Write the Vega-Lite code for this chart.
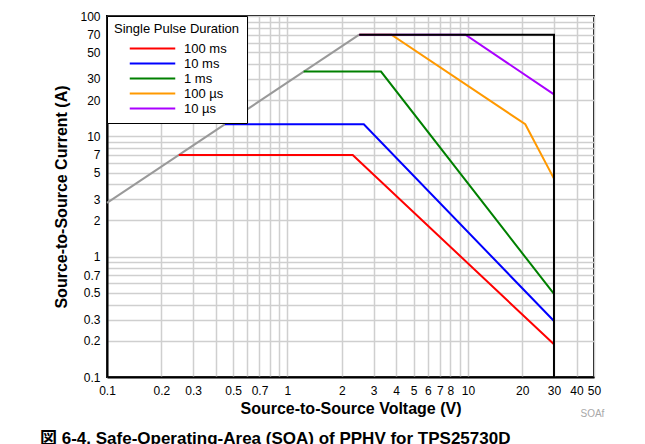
{
  "$schema": "https://vega.github.io/schema/vega-lite/v6.json",
  "width": 487,
  "height": 361,
  "autosize": {"type": "none"},
  "padding": {"left": 107, "top": 16, "right": 51, "bottom": 67},
  "background": "white",
  "config": {
    "font": "Liberation Sans",
    "view": {"stroke": "black", "strokeWidth": 2},
    "axis": {
      "domainColor": "black",
      "domainWidth": 2,
      "ticks": false,
      "grid": true,
      "gridColor": "#cfcfcf",
      "gridWidth": 1.5,
      "labelFont": "Liberation Sans",
      "labelFontSize": 12,
      "labelColor": "black",
      "labelOverlap": false,
      "labelFlush": false,
      "titleFont": "Liberation Sans",
      "titleFontSize": 16,
      "titleFontWeight": "bold",
      "titleColor": "black"
    }
  },
  "title": {
    "text": "図 6-4. Safe-Operating-Area (SOA) of PPHV for TPS25730D",
    "orient": "bottom",
    "anchor": "start",
    "frame": "group",
    "dx": -67,
    "offset": 12,
    "font": "Liberation Sans, Noto Sans CJK JP",
    "fontSize": 17,
    "fontWeight": "bold",
    "color": "black"
  },
  "datasets": {
    "curves": [
      {"V": 0.25, "I": 7, "pulse": "100 ms"},
      {"V": 2.3, "I": 7, "pulse": "100 ms"},
      {"V": 30, "I": 0.187, "pulse": "100 ms"},
      {"V": 0.45, "I": 12.6, "pulse": "10 ms"},
      {"V": 2.65, "I": 12.6, "pulse": "10 ms"},
      {"V": 30, "I": 0.292, "pulse": "10 ms"},
      {"V": 1.23, "I": 34.5, "pulse": "1 ms"},
      {"V": 3.3, "I": 34.5, "pulse": "1 ms"},
      {"V": 30, "I": 0.49, "pulse": "1 ms"},
      {"V": 2.5, "I": 70, "pulse": "100 µs"},
      {"V": 3.77, "I": 70, "pulse": "100 µs"},
      {"V": 20.8, "I": 12.6, "pulse": "100 µs"},
      {"V": 30, "I": 4.45, "pulse": "100 µs"},
      {"V": 2.5, "I": 70, "pulse": "10 µs"},
      {"V": 9.7, "I": 70, "pulse": "10 µs"},
      {"V": 30, "I": 22.3, "pulse": "10 µs"}
    ],
    "limit": [
      {"V": 0.1, "I": 2.8},
      {"V": 2.5, "I": 70}
    ],
    "boundary": [
      {"V": 2.5, "I": 70, "k": 1},
      {"V": 30, "I": 70, "k": 2},
      {"V": 30, "I": 0.1, "k": 3}
    ],
    "notes": [
      {"note": "SOAf"}
    ]
  },
  "layer": [
    {
      "data": {"name": "limit"},
      "mark": {"type": "line", "color": "#999999", "strokeWidth": 2},
      "encoding": {
        "x": {
          "field": "V",
          "type": "quantitative",
          "scale": {"type": "log", "domain": [0.1, 50], "nice": false},
          "axis": {
            "values": [0.1, 0.2, 0.3, 0.4, 0.5, 0.6, 0.7, 0.8, 0.9, 1, 2, 3, 4, 5, 6, 7, 8, 9, 10, 20, 30, 40, 50],
            "format": "~g",
            "labelExpr": "indexof([0.4, 0.6, 0.8, 0.9, 9], datum.value) >= 0 ? '' : datum.label",
            "title": "Source-to-Source Voltage (V)",
            "labelPadding": 8,
            "titlePadding": 4
          }
        },
        "y": {
          "field": "I",
          "type": "quantitative",
          "scale": {"type": "log", "domain": [0.1, 100], "nice": false},
          "axis": {
            "values": [0.1, 0.2, 0.3, 0.4, 0.5, 0.6, 0.7, 0.8, 0.9, 1, 2, 3, 4, 5, 6, 7, 8, 9, 10, 20, 30, 40, 50, 60, 70, 80, 90, 100],
            "format": "~g",
            "labelExpr": "indexof([0.4, 0.6, 0.8, 0.9, 4, 6, 8, 9, 40, 60, 80, 90], datum.value) >= 0 ? '' : datum.label",
            "title": "Source-to-Source Current (A)",
            "labelPadding": 7,
            "titlePadding": 10
          }
        }
      }
    },
    {
      "data": {"name": "curves"},
      "mark": {"type": "line", "strokeWidth": 2},
      "encoding": {
        "x": {"field": "V", "type": "quantitative"},
        "y": {"field": "I", "type": "quantitative"},
        "color": {
          "field": "pulse",
          "type": "nominal",
          "scale": {
            "domain": ["100 ms", "10 ms", "1 ms", "100 µs", "10 µs"],
            "range": ["#ff0000", "#0000ff", "#008000", "#ff9900", "#aa00ff"]
          },
          "legend": {
            "title": "Single Pulse Duration",
            "orient": "top-left",
            "offset": 0,
            "fillColor": "white",
            "strokeColor": "black",
            "padding": 7,
            "titleFont": "Liberation Sans",
            "titleFontSize": 13,
            "titleFontWeight": "normal",
            "titleColor": "black",
            "titlePadding": 5,
            "labelFont": "Liberation Sans",
            "labelFontSize": 13,
            "labelColor": "black",
            "labelOffset": 24,
            "symbolType": "M-3.5,0H3.5",
            "symbolSize": 169,
            "symbolStrokeWidth": 2,
            "symbolOffset": 31,
            "rowPadding": 0
          }
        }
      }
    },
    {
      "data": {"name": "boundary"},
      "mark": {"type": "line", "color": "black", "strokeWidth": 2},
      "encoding": {
        "x": {"field": "V", "type": "quantitative"},
        "y": {"field": "I", "type": "quantitative"},
        "order": {"field": "k", "type": "quantitative"}
      }
    },
    {
      "data": {"name": "notes"},
      "mark": {"type": "text", "color": "#a8a8a8", "fontSize": 10, "font": "Liberation Sans", "align": "center", "baseline": "middle", "clip": false},
      "encoding": {
        "x": {"datum": 49, "type": "quantitative"},
        "y": {"datum": 0.049, "type": "quantitative"},
        "text": {"field": "note", "type": "nominal"}
      }
    }
  ]
}
